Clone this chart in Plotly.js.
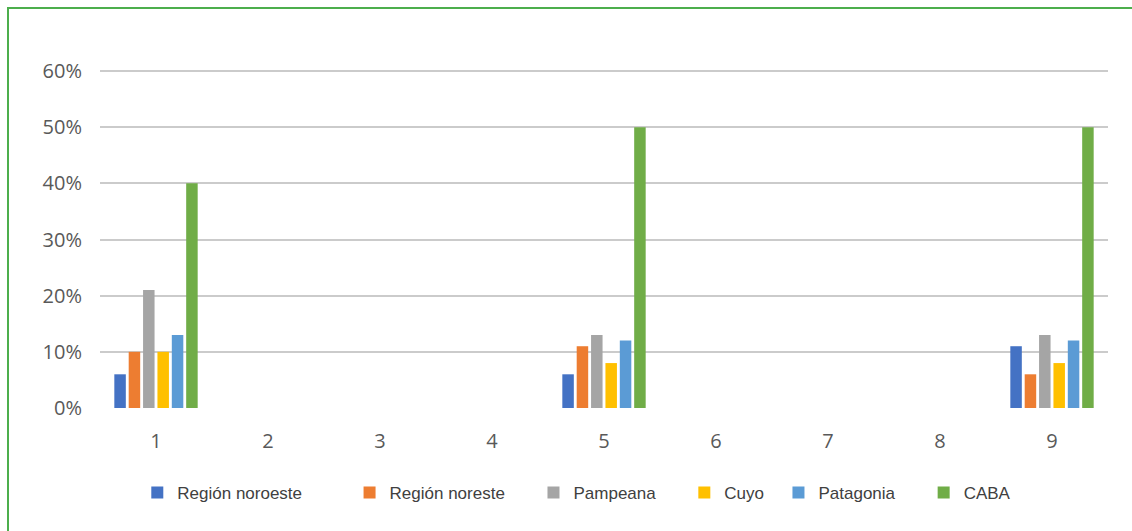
<!DOCTYPE html>
<html>
<head>
<meta charset="utf-8">
<script src="https://cdn.plot.ly/plotly-3.0.1.min.js"></script>
<style>
  html, body { margin: 0; padding: 0; background: #fff; }
  #wrap { position: relative; width: 1132px; height: 531px; overflow: hidden; }
  #chart { position: absolute; left: 0; top: 0; width: 1132px; height: 531px; }
  #frame { position: absolute; left: 7px; top: 7px; width: 1140px; height: 540px;
           border-top: 2px solid #4cae4c; border-left: 2px solid #4cae4c; pointer-events: none; }
</style>
</head>
<body>
<div id="wrap">
  <div id="chart"></div>
  <div id="frame"></div>
</div>
<script>
const categories = ['1', '2', '3', '4', '5', '6', '7', '8', '9'];
const seriesNames = ['Región noroeste', 'Región noreste', 'Pampeana', 'Cuyo', 'Patagonia', 'CABA'];
const noroeste = [0.06, null, null, null, 0.06, null, null, null, 0.11];
const noreste  = [0.10, null, null, null, 0.11, null, null, null, 0.06];
const pampeana = [0.21, null, null, null, 0.13, null, null, null, 0.13];
const cuyo     = [0.10, null, null, null, 0.08, null, null, null, 0.08];
const patagonia= [0.13, null, null, null, 0.12, null, null, null, 0.12];
const caba     = [0.40, null, null, null, 0.50, null, null, null, 0.50];
const yTicks = [0, 0.1, 0.2, 0.3, 0.4, 0.5, 0.6];
const yTickText = ['0%', '10%', '20%', '30%', '40%', '50%', '60%'];

const colors = ['#4472C4', '#ED7D31', '#A5A5A5', '#FFC000', '#5B9BD5', '#70AD47'];
const pads = [9, 5, 5, 2, 5, 0];
const values = [noroeste, noreste, pampeana, cuyo, patagonia, caba];

const traces = values.map((v, i) => ({
  type: 'bar',
  x: categories,
  y: v,
  name: seriesNames[i] + '\u00a0'.repeat(pads[i]),
  marker: { color: colors[i], line: { width: 0 } },
  hoverinfo: 'skip'
}));

const layout = {
  width: 1132, height: 531,
  margin: { l: 100, r: 24, t: 68, b: 123 },
  paper_bgcolor: '#ffffff',
  plot_bgcolor: '#ffffff',
  barmode: 'group',
  bargap: 0.23,
  bargroupgap: 0.2,
  showlegend: true,
  legend: {
    orientation: 'h',
    x: 0.037, xanchor: 'left',
    y: -0.25, yanchor: 'middle',
    font: { family: '"Liberation Sans", Arial, sans-serif', size: 17, color: '#404040' },
    bgcolor: 'rgba(0,0,0,0)',
    traceorder: 'normal'
  },
  xaxis: {
    type: 'category',
    categoryarray: categories,
    showgrid: false,
    zeroline: false,
    showline: false,
    ticks: '',
    ticklabelstandoff: 19,
    tickfont: { family: '"Open Sans", sans-serif', size: 20, color: '#595959' }
  },
  yaxis: {
    range: [0, 0.60534],
    tickvals: yTicks,
    ticktext: yTickText,
    showgrid: true,
    gridcolor: '#cbcbcb',
    gridwidth: 2,
    zeroline: false,
    showline: false,
    ticks: '',
    ticklabelstandoff: 17,
    tickfont: { family: '"Open Sans", sans-serif', size: 20, color: '#595959' }
  }
};

Plotly.newPlot('chart', traces, layout, { staticPlot: true, displayModeBar: false });
</script>
</body>
</html>
